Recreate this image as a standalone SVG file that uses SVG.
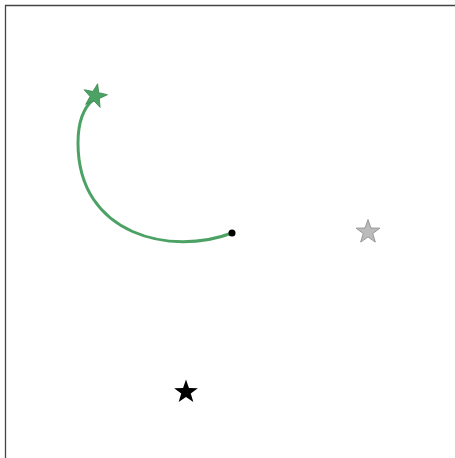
<svg xmlns="http://www.w3.org/2000/svg" width="455" height="458" viewBox="0 0 455 458">
<style>
.frame{stroke:#444;stroke-width:1.3;fill:none}
.conn{fill:none;stroke:#4ca265;stroke-width:3;stroke-linecap:round}
</style>
<defs>
<polygon id="star" points="0,-12.5 2.94,-4.04 11.89,-3.86 4.76,1.55 7.35,10.11 0,5 -7.35,10.11 -4.76,1.55 -11.89,-3.86 -2.94,-4.04"/>
</defs>
<rect width="455" height="458" fill="#fff"/>
<path class="frame" d="M5.5,458 V5.5 H455"/>
<g id="connectors">
<path class="conn" d="M232,233 C172,256 78,236 78,143 C78,122 84,107 94,99"/>
</g>
<g id="start">
<circle cx="232" cy="233" r="3.5" fill="#000"/>
</g>
<g id="green-star">
<use href="#star" transform="translate(95,96) rotate(12)" fill="#4ca265" stroke="#3d8a52" stroke-width="0.8"/>
</g>
<g id="gray-star">
<use href="#star" transform="translate(368,232)" fill="#bbb" stroke="#888" stroke-width="0.8"/>
</g>
<g id="black-star">
<use href="#star" transform="translate(186,392)" fill="#000"/>
</g>
</svg>
